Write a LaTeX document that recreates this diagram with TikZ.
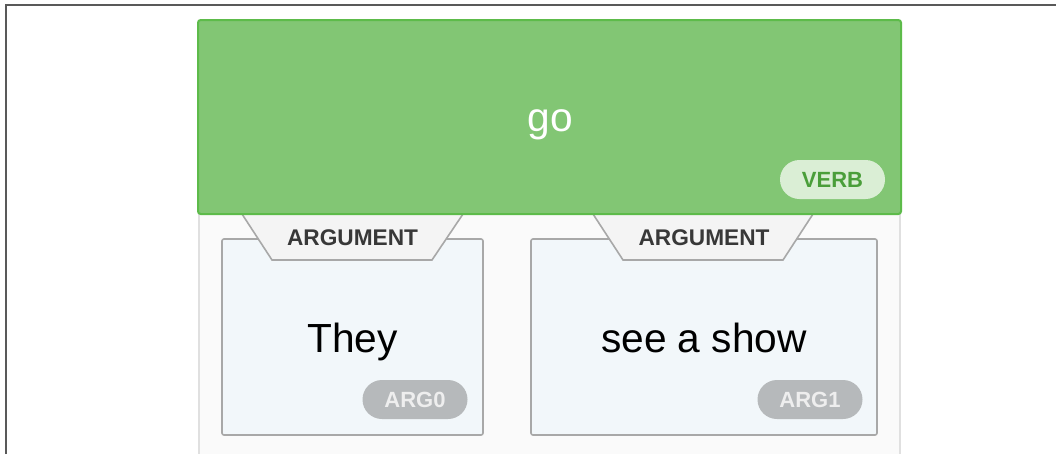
\documentclass[tikz,border=0pt]{standalone}
\usepackage{fontspec}
\setmainfont{Liberation Sans}
\definecolor{verbgreen}{HTML}{82C674}
\definecolor{verbline}{HTML}{5DBB4A}
\definecolor{verbpill}{HTML}{DAEED5}
\definecolor{verbtext}{HTML}{4A9E3A}
\definecolor{argfill}{HTML}{F2F7FA}
\definecolor{argline}{HTML}{A8A8A8}
\definecolor{tabfill}{HTML}{F4F4F4}
\definecolor{pillgray}{HTML}{B6B9BB}
\definecolor{pilltext}{HTML}{EEEEEE}
\definecolor{panel}{HTML}{FAFAFA}
\definecolor{panelline}{HTML}{E0E0E0}
\begin{document}
\begin{tikzpicture}[x=0.75pt, y=-0.75pt,
  verbbox/.style={rectangle, draw=verbline, line width=1.5pt, fill=verbgreen, rounded corners=2pt,
    minimum width=527.25pt, minimum height=145.5pt, inner sep=0pt},
  argbox/.style={rectangle, draw=argline, line width=1.2pt, fill=argfill, rounded corners=1.5pt,
    minimum height=147pt, inner sep=0pt},
  tab/.style={fill=tabfill, draw=argline, line width=1.2pt},
  pill/.style={rectangle, rounded corners=14.6pt, minimum width=78.75pt, minimum height=29.25pt,
    inner sep=0pt, font=\fontsize{16.5}{18}\selectfont\bfseries},
  word/.style={font=\fontsize{30.5}{34}\selectfont, anchor=base, inner sep=0pt},
  tablabel/.style={font=\fontsize{17}{18}\selectfont\bfseries, text=black!78}
]
  \useasboundingbox (0,0) rectangle (1056,454);

  % outer frame and panel
  \draw[black!65, line width=1.5pt] (6,454) -- (6,5) -- (1056,5);
  \fill[panel] (198,30) rectangle (901,454);
  \draw[panelline, line width=1pt] (199,30) -- (199,454) (900,30) -- (900,454);

  % argument boxes
  \node[argbox, minimum width=195.75pt] (arg0) at (352.5,337) {};
  \node[argbox, minimum width=259.5pt] (arg1) at (704,337) {};

  % tabs above the boxes
  \draw[tab] (242,214) -- (272,260) -- (432,260) -- (463,214);
  \draw[tab] (593,214) -- (623,260) -- (783,260) -- (813,214);
  \node[tablabel] (tab0) at (352.5,238) {ARGUMENT};
  \node[tablabel] (tab1) at (704,238) {ARGUMENT};

  % verb box
  \node[verbbox] (verb) at (549.5,117) {};
  \node[word, text=white] (go) at (550,131) {go};
  \node[pill, fill=verbpill, text=verbtext] (verbtag) at (832.5,179.5) {VERB};

  % argument texts and tags
  \node[word] (they) at (352.5,352) {They};
  \node[word] (show) at (704,352) {see a show};
  \node[pill, fill=pillgray, text=pilltext] (tag0) at (415,399.5) {ARG0};
  \node[pill, fill=pillgray, text=pilltext] (tag1) at (810,399.5) {ARG1};
\end{tikzpicture}
\end{document}
